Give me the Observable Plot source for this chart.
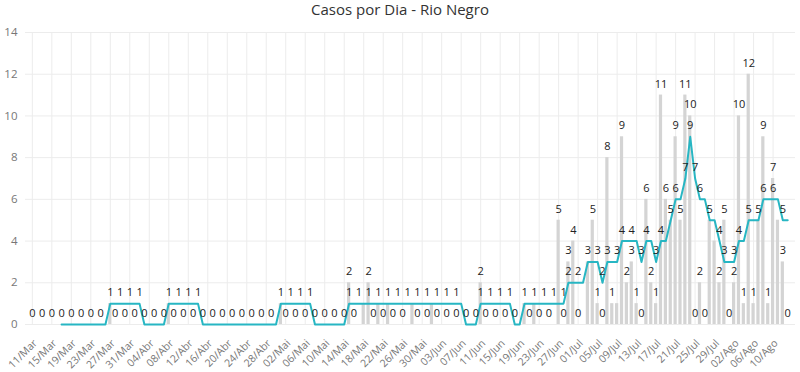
<!DOCTYPE html>
<html>
<head>
<meta charset="utf-8">
<script src="https://cdn.jsdelivr.net/npm/d3@7"></script>
<script src="https://cdn.jsdelivr.net/npm/@observablehq/plot@0.6"></script>
<style>
  html, body { margin: 0; padding: 0; background: #fff; }
  #title { height: 18px; line-height: 17px; font: 15px "Open Sans", sans-serif; color: #333; text-align: center; margin-top: -1px; }
  #chart svg { display: block; }
</style>
</head>
<body>
<div id="title">Casos por Dia - Rio Negro</div>
<div id="chart"></div>
<script>
// Daily new cases, one value per day starting 11/Mar
const startDay = "11/Mar";
const cases = [
  0,0,0,0,0,0,0,0,0,0,
  0,0,0,0,0,0,1,0,0,0,
  0,0,0,0,0,0,0,0,1,0,
  0,0,0,0,0,0,0,0,0,0,
  0,0,0,0,0,0,0,0,0,0,
  0,1,0,0,0,0,0,0,0,0,
  0,0,0,0,0,2,0,0,1,2,
  0,1,0,1,0,0,0,0,1,0,
  0,0,1,0,0,0,0,0,0,0,
  0,0,2,0,0,0,0,0,0,0,
  0,1,0,1,0,0,0,0,5,0,
  3,4,0,0,3,5,1,0,8,1,
  1,9,2,3,1,0,6,2,1,11,
  6,5,9,5,11,10,0,2,0,5,
  4,2,5,0,2,10,1,12,1,5,
  9,1,7,5,3,0
];
// 7-day average line, starting on day index 6 (17/Mar)
const avgStart = 6;
const avgValues = [
  0,0,0,0,0,0,0,0,0,0,
  1,1,1,1,1,1,1,
  0,0,0,0,0,
  1,1,1,1,1,1,1,
  0,0,0,0,0,0,0,0,0,0,0,0,0,0,0,0,
  1,1,1,1,1,1,1,
  0,0,0,0,0,0,0,
  1,1,1,1,1,1,1,1,1,1,1,1,1,1,1,1,1,1,1,1,1,1,1,1,
  0,0,0,
  1,1,1,1,1,1,1,
  0,0,
  1,1,1,1,1,1,1,1,1,
  2,2,2,2,
  3,3,3,
  2,
  3,3,3,
  4,4,4,4,
  3,
  4,4,
  3,
  4,4,
  5,
  6,6,
  7,
  9,
  7,
  6,6,
  5,5,
  4,
  3,3,3,
  4,4,
  5,5,5,
  6,6,6,6,
  5,5
];
const tickLabels = ["11/Mar","15/Mar","19/Mar","23/Mar","27/Mar","31/Mar","04/Abr","08/Abr","12/Abr","16/Abr","20/Abr","24/Abr","28/Abr","02/Mai","06/Mai","10/Mai","14/Mai","18/Mai","22/Mai","26/Mai","30/Mai","03/Jun","07/Jun","11/Jun","15/Jun","19/Jun","23/Jun","27/Jun","01/Jul","05/Jul","09/Jul","13/Jul","17/Jul","21/Jul","25/Jul","29/Jul","02/Ago","06/Ago","10/Ago"];
const tickStep = 4;
const yTicks = [0,2,4,6,8,10,12,14];

const barData = cases.map((v, i) => ({d: i, v}));
const avgData = avgValues.map((v, i) => ({d: i + avgStart, v}));
const tickDays = tickLabels.map((_, i) => i * tickStep);

const W = 800, H = 354;
const mL = 25, mR = 5, mT = 15, mB = 47;
const xDomain = [-1.4, 156.6];
const yDomain = [0, 14];

// label collision avoidance (like the original: overlapping labels are hidden)
const xs = d3.scaleLinear(xDomain, [mL, W - mR]);
const ys = d3.scaleLinear(yDomain, [H - mB, mT]);
const placed = [];
function place(list) {
  const out = [];
  for (const L of list) {
    const w = String(L.v).length * 6.4 + 1, h = 11;
    const cx = xs(L.d), cy = ys(L.v) - 11;
    const b = {x0: cx - w / 2, x1: cx + w / 2, y0: cy - h / 2, y1: cy + h / 2};
    if (placed.some(p => b.x0 < p.x1 && b.x1 > p.x0 && b.y0 < p.y1 && b.y1 > p.y0)) continue;
    placed.push(b);
    out.push(L);
  }
  return out;
}
const avgLabels = place(avgData);
const barLabels = place(barData);

const chart = Plot.plot({
  width: W,
  height: H,
  marginLeft: mL,
  marginRight: mR,
  marginTop: mT,
  marginBottom: mB,
  style: {fontFamily: "'Open Sans', sans-serif", color: "#777", background: "#fff"},
  x: {domain: xDomain},
  y: {domain: yDomain},
  marks: [
    Plot.gridY(yTicks, {stroke: "#ececec", strokeOpacity: 1}),
    Plot.gridX(tickDays, {stroke: "#ececec", strokeOpacity: 1}),
    Plot.axisY(yTicks, {tickSize: 0, tickPadding: 8, fontSize: 11.5, label: null}),
    Plot.axisX(tickDays, {
      tickSize: 0, tickPadding: 17, tickRotate: -45, fontSize: 10.5, label: null, dx: 3,
      tickFormat: (d) => tickLabels[Math.round(d / tickStep)]
    }),
    Plot.rectY(barData, {x1: d => d.d - 0.33, x2: d => d.d + 0.33, y: "v", fill: "#d4d4d4"}),
    Plot.lineY(avgData, {x: "d", y: "v", stroke: "#27b6c3", strokeWidth: 2}),
    Plot.text(avgLabels, {x: "d", y: "v", text: d => String(d.v), dy: -11, fontSize: 11, fill: "#222"}),
    Plot.text(barLabels, {x: "d", y: "v", text: d => String(d.v), dy: -11, fontSize: 11, fill: "#222"})
  ]
});
document.getElementById("chart").append(chart);
</script>
</body>
</html>
